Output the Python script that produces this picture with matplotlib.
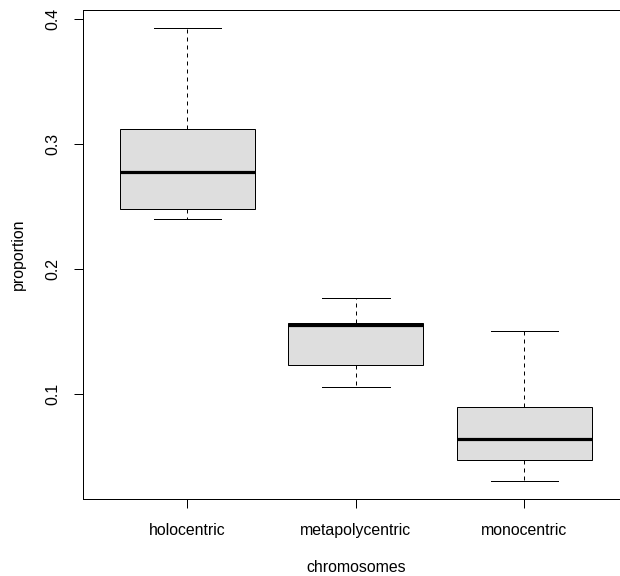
import matplotlib
matplotlib.use("Agg")
import matplotlib.pyplot as plt

categories = ["holocentric", "metapolycentric", "monocentric"]
whis_lo = [0.240, 0.105, 0.0304]
q1 = [0.248, 0.1227, 0.0472]
median = [0.2778, 0.155, 0.0637]
q3 = [0.312, 0.1565, 0.0894]
whis_hi = [0.3926, 0.1766, 0.1499]
yticks = [0.1, 0.2, 0.3, 0.4]

plt.rcParams["font.family"] = ["Liberation Sans", "DejaVu Sans"]
fs = 11.4

fig = plt.figure(figsize=(6.2, 5.76), dpi=100)
ax = fig.add_axes([82.8 / 620, 77.3 / 576, 546 / 620, 488.7 / 576])

stats = []
for i, c in enumerate(categories):
    stats.append(dict(label=c, whislo=whis_lo[i], q1=q1[i], med=median[i],
                      q3=q3[i], whishi=whis_hi[i], fliers=[]))

lw = 0.72
ax.bxp(stats, positions=[1, 2, 3], widths=0.8, patch_artist=True,
       showfliers=False,
       boxprops=dict(facecolor="#dedede", edgecolor="black", linewidth=lw),
       medianprops=dict(color="black", linewidth=2.3, solid_capstyle="butt"),
       whiskerprops=dict(color="black", linewidth=lw, linestyle=(0, (4, 4))),
       capprops=dict(color="black", linewidth=lw),
       capwidths=0.4)

ax.set_xlim(0.38, 3.62)
ax.set_ylim(0.0159, 0.4071)
ax.set_yticks(yticks)
ax.set_yticklabels([str(v) for v in yticks], rotation=90, va="center")
ax.set_xticks([1, 2, 3])
ax.set_xticklabels(categories)
ax.tick_params(axis="both", direction="out", length=6.5, width=lw,
               labelsize=fs, color="black")
ax.tick_params(axis="x", pad=10.8)
ax.tick_params(axis="y", pad=9.5)
for s in ax.spines.values():
    s.set_linewidth(lw)

ax.set_xlabel("chromosomes", fontsize=fs, labelpad=16)
ax.set_ylabel("proportion", fontsize=fs, labelpad=14.5)

fig.savefig("out.png", dpi=100)
